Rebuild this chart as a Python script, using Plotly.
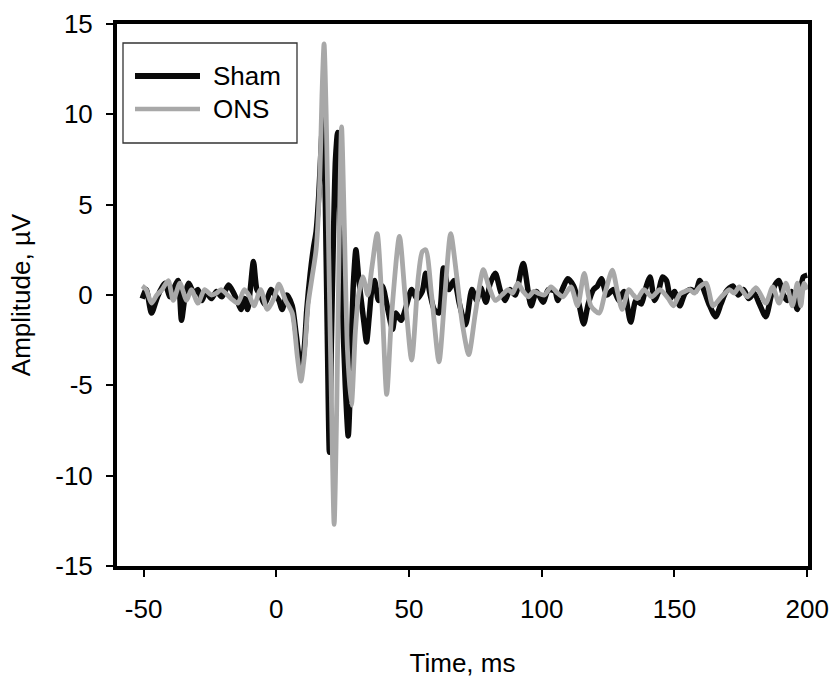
import plotly.graph_objects as go

# ---- data ----
t_sham = [-50.5, -49, -47, -45, -43.5, -42, -40, -38.5, -37, -35.7, -34.5, -33, -31, -29.5, -28, -26.5,
          -24.5, -22.5, -20.5, -18, -16, -14.5, -13.3, -12, -10.8, -9.8, -8.6, -7.3, -6, -4.5, -3.4, -2,
          -0.5, 1, 2.2, 4, 6, 7.5, 9.3, 10.5, 11.5, 12.8, 14, 15, 16, 17, 17.8, 18.5, 19.2, 20, 20.7,
          21.5, 22.3, 23.1, 24, 25, 26, 27.1, 28.2, 29, 30, 31, 32, 33, 34, 35, 36, 37, 38.5, 40, 42,
          43.8, 45, 47, 49, 51, 53, 55, 56.3, 58, 59.5, 61.3, 63, 65, 67, 69, 71.3, 73.7, 75.5, 77, 79,
          80.5, 82.5, 84.5, 86.2, 88, 90, 93, 96, 98, 100.5, 102.5, 105, 106, 108, 109.8, 112, 114,
          115.8, 117.5, 119.5, 121, 122.5, 124.5, 127, 129, 131, 133.5, 135.5, 137.5, 139, 140.8,
          142.5, 144, 145.5, 147, 148.5, 150, 152, 154, 156, 158, 159.5, 161.5, 163, 165.5, 167.5,
          169.5, 172, 174, 176, 178, 180, 182, 184.4, 186.5, 188, 189.4, 191, 192.5, 194, 196.3,
          198.5, 200]
amp_sham = [-0.2, 0.3, -1.0, -0.2, 0.3, 0.65, -0.1, 0.4, 0.8, -1.4, -0.2, 0.65, 0.1, 0.3, -0.3, 0.2,
            -0.2, 0.2, -0.1, 0.55, 0.1, -0.4, -0.8, -0.2, -0.8, 0.3, 1.85, 0.3, 0.0, -0.5, -0.2, 0.3,
            0.0, -0.3, -0.8, 0.0, -0.6, -2.2, -4.1, -3.0, -0.8, 1.2, 2.6, 3.5, 5.5, 8.5, 10.4, 5.0, -2.0,
            -8.7, -3.0, 3.0, 7.5, 9.0, 4.0, -1.0, -5.0, -7.8, -3.5, 0.5, 2.5, 1.0, -0.3, -1.5, -2.6,
            -1.2, 0.3, 0.8, -0.3, 0.5, -0.8, -1.9, -1.0, -1.4, -0.6, 0.3, -0.2, 0.2, 1.2, 0.0, -0.8,
            -1.0, 1.5, 0.3, 0.8, -0.5, -1.65, 0.3, -0.3, 0.4, -0.4, 0.6, 1.2, 0.2, -0.3, 0.3, 0.0, 1.75,
            -0.6, 0.2, -0.4, 0.3, 0.2, -0.3, 0.4, 0.9, 0.5, -0.5, -1.6, -0.5, 0.3, 0.5, 0.9, 0.0, 0.3,
            -0.3, 0.2, -1.5, -0.3, -0.5, 0.3, 1.0, -0.3, 0.2, 1.0, 0.8, -0.2, 0.2, -0.6, 0.1, 0.3, 0.2,
            0.8, 0.1, -0.5, -1.2, -0.5, 0.2, 0.5, 0.0, 0.3, -0.2, 0.1, -0.5, -1.2, 0.0, 0.6, 0.8, 0.0,
            -0.3, 0.2, -0.8, 1.0, 1.1]

t_ons = [-50.5, -49, -47, -45, -43, -40.7, -38.8, -36.3, -33.8, -32, -29.5, -27, -24.5, -22.5, -20.8,
         -17, -14.5, -12, -10, -8.4, -5.9, -3.4, -0.9, 1, 3.5, 6, 8, 9.3, 10.5, 12, 13.5, 15, 16.3,
         17.2, 18, 18.8, 19.8, 20.8, 21.8, 22.8, 23.7, 24.6, 25.6, 26.8, 28.3, 29.8, 31, 32.6, 34.5,
         36, 38, 40, 41.6, 43.5, 46.4, 48.5, 51, 53.5, 55, 56.3, 58.5, 61.3, 63.5, 65.7, 68, 70, 72.5,
         75, 78, 80, 82.5, 85, 87.4, 89, 91, 93, 95, 97, 98.6, 101, 103.5, 106, 108, 111, 113.5, 116,
         118.5, 121.6, 124, 126.6, 128.5, 130.3, 132.8, 134.5, 136, 138.5, 141.5, 144.5, 147.7, 149.6,
         152, 154, 155.7, 157.5, 159.5, 162, 164.5, 167.7, 170.7, 172.5, 174.4, 177.5, 180.8, 184.4,
         187, 189.4, 192, 194.4, 196.3, 197.6, 198.8, 200]
amp_ons = [0.5, 0.3, -0.45, 0.0, 0.3, 0.8, -0.3, 0.65, -0.3, 0.3, -0.45, 0.3, 0.0, 0.1, 0.3,
           -0.2, -0.45, 0.3, -0.1, -0.6, 0.3, -0.8, -0.2, 0.6, -0.3, -1.0, -3.5, -4.76, -3.5, -0.5, 1.0,
           2.5, 6.0, 11.0, 13.9, 10.0, 2.0, -6.0, -12.7, -6.0, 3.0, 9.3, 4.0, -3.0, -6.1, -2.0, 0.0,
           1.0, 0.0, 1.5, 3.4, -1.0, -5.5, -1.0, 3.25, 0.0, -3.6, 1.0, 2.4, 2.5, 0.0, -3.7, 0.0, 3.4,
           1.0, -1.5, -3.3, -1.0, 1.4, 0.5, -0.3, 0.0, 0.3, 0.1, 0.65, 0.2, -0.1, 0.2, 0.1, 0.0, 0.45,
           0.1, -0.1, 0.45, -0.6, 1.2, -0.6, -1.0, 0.2, 1.37, 0.2, -0.8, 0.3, 0.0, -0.2, 0.3, -0.1,
           0.3, -0.2, -0.6, 0.05, 0.2, 0.3, 0.1, 0.45, 0.65, -0.6, -0.1, 0.3, 0.1, 0.45, -0.1, 0.4,
           -0.45, 0.45, -0.45, 0.65, -0.6, 0.65, -0.6, 0.65, 0.3]

series_names = ["Sham", "ONS"]
x_ticks = [-50, 0, 50, 100, 150, 200]
y_ticks = [-15, -10, -5, 0, 5, 10, 15]

# ---- styling ----
BLACK = "#0a0a0a"
GRAY = "#a8a8a8"
FONT = "Liberation Sans, Arial, sans-serif"

W, H = 832, 678
L, R, T, B = 117, 24, 24, 112
PW, PH = W - L - R, H - T - B


def px(xp):
    return (xp - L) / PW


def py(yp):
    return (H - B - yp) / PH


fig = go.Figure()
fig.add_trace(go.Scatter(x=t_sham, y=amp_sham, mode="lines", name=series_names[0],
                         line=dict(color=BLACK, width=5.5, shape="spline", smoothing=0.7),
                         showlegend=False))
fig.add_trace(go.Scatter(x=t_ons, y=amp_ons, mode="lines", name=series_names[1],
                         line=dict(color=GRAY, width=4.8, shape="spline", smoothing=0.7),
                         showlegend=False))

# manual legend box
shapes = [
    dict(type="rect", xref="paper", yref="paper", x0=px(123), x1=px(297), y0=py(143), y1=py(43),
         line=dict(color="#333333", width=1.3), fillcolor="white", layer="above"),
    dict(type="line", xref="paper", yref="paper", x0=px(135), x1=px(200), y0=py(76), y1=py(76),
         line=dict(color=BLACK, width=6), layer="above"),
    dict(type="line", xref="paper", yref="paper", x0=px(135), x1=px(200), y0=py(109), y1=py(109),
         line=dict(color=GRAY, width=4.5), layer="above"),
]
annotations = [
    dict(xref="paper", yref="paper", x=px(211), y=py(76), text=series_names[0], showarrow=False,
         xanchor="left", yanchor="middle", font=dict(family=FONT, size=26, color="black")),
    dict(xref="paper", yref="paper", x=px(211), y=py(109), text=series_names[1], showarrow=False,
         xanchor="left", yanchor="middle", font=dict(family=FONT, size=26, color="black")),
]

fig.update_layout(
    width=W, height=H,
    margin=dict(l=L, r=R, t=T, b=B, pad=0, autoexpand=False),
    paper_bgcolor="white", plot_bgcolor="white",
    font=dict(family=FONT, size=26, color="black"),
    shapes=shapes, annotations=annotations,
    showlegend=False,
)
fig.update_xaxes(
    range=[-60, 200.3], tickmode="array", tickvals=x_ticks, ticktext=[str(v) for v in x_ticks],
    showgrid=False, zeroline=False, showline=True, linecolor="black", linewidth=4, mirror=True,
    ticks="outside", ticklen=7, tickwidth=1.5, tickcolor="black", ticklabelstandoff=10,
    automargin=False, ticklabeloverflow="allow",
    title=dict(text="Time, ms", standoff=32, font=dict(family=FONT, size=26)),
)
fig.update_yaxes(
    range=[-15, 15], tickmode="array", tickvals=y_ticks, ticktext=[str(v) for v in y_ticks],
    showgrid=False, zeroline=False, showline=True, linecolor="black", linewidth=4, mirror=True,
    ticks="outside", ticklen=7, tickwidth=1.5, tickcolor="black", ticklabelstandoff=8,
    automargin=False, ticklabeloverflow="allow",
    title=dict(text="Amplitude, µV", standoff=18, font=dict(family=FONT, size=26)),
)

fig.write_html("out.html")
